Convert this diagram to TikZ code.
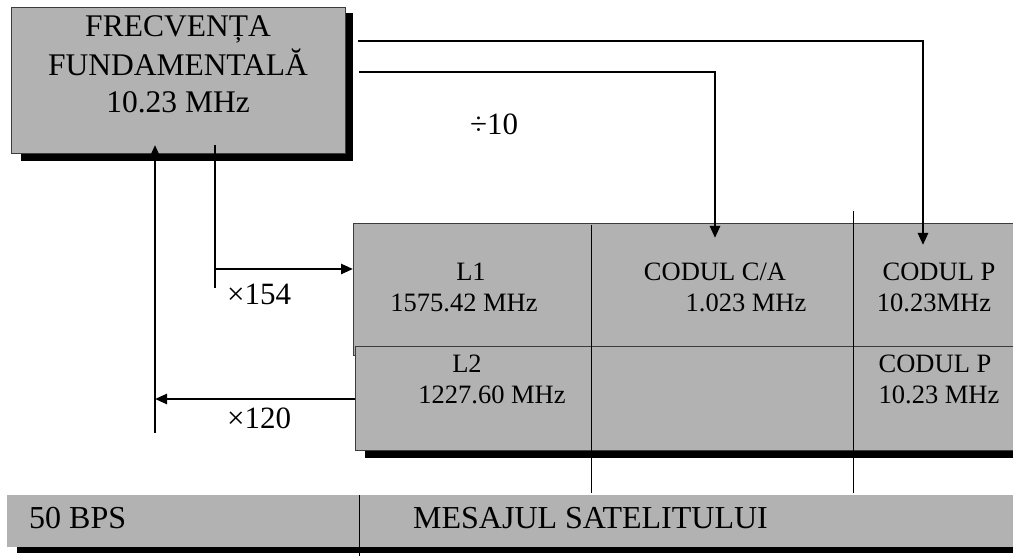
\documentclass[tikz,border=0pt]{standalone}
\usepackage{fontspec}
\setmainfont{Liberation Serif}
\usetikzlibrary{arrows.meta}
\definecolor{boxgray}{RGB}{178,178,178}
\definecolor{edgegray}{RGB}{60,60,60}
\tikzset{
  panel/.style={draw=edgegray, line width=0.8pt, fill=boxgray, inner sep=0pt, anchor=north west},
  flatpanel/.style={fill=boxgray, inner sep=0pt, anchor=north west},
  conn/.style={line width=2.5pt},
  arr/.style={conn, -{Triangle[length=12pt,width=10pt]}},
  divider/.style={line width=1pt, draw=black},
  bigtxt/.style={font=\fontsize{31.5}{36}\selectfont, inner sep=0pt, anchor=base},
  celltxt/.style={font=\fontsize{26.5}{30}\selectfont, inner sep=0pt, anchor=base},
  bartxt/.style={font=\fontsize{32}{36}\selectfont, inner sep=0pt, anchor=base west},
  lbl/.style={font=\fontsize{31}{36}\selectfont, inner sep=0pt, anchor=base west},
}
\begin{document}
\begin{tikzpicture}[x=1pt,y=-1pt]
\useasboundingbox (0,0) rectangle (1013,556);
\clip (0,0) rectangle (1013,556);

% top box with shadow
\fill[black] (21,13) rectangle (353,161);
\node[panel, minimum width=334pt, minimum height=146pt] (fund) at (11,7) {};
\node[bigtxt] (f1) at (178,37) {FRECVENȚA};
\node[bigtxt] (f2) at (178,76) {FUNDAMENTALĂ};
\node[bigtxt] (f3) at (178,113) {10.23 MHz};

% table with shadow
\fill[black] (365,450) rectangle (1020,458);
\node[panel, minimum width=670pt, minimum height=132pt] (row1) at (353,223) {};
\node[panel, minimum width=668pt, minimum height=104pt] (row2) at (355,346) {};

% bottom bar with shadow
\fill[black] (17,547) rectangle (1020,553);
\node[flatpanel, minimum width=1013pt, minimum height=52pt] (bar) at (7,495) {};

% dividers
\draw[divider] (591,225) -- (591,493);
\draw[divider] (853,211) -- (853,493);
\draw[divider] (359,495) -- (359,556);

% cell texts
\node[celltxt] (l1) at (471,281) {L1};
\node[celltxt] (l1f) at (464,312) {1575.42 MHz};
\node[celltxt] (l2) at (467,373) {L2};
\node[celltxt] (l2f) at (492,403) {1227.60 MHz};
\node[celltxt] (ca) at (715,281) {CODUL C/A};
\node[celltxt] (caf) at (746,312) {1.023 MHz};
\node[celltxt] (p1) at (939,281) {CODUL P};
\node[celltxt] (p1f) at (934,312) {10.23MHz};
\node[celltxt] (p2) at (935,373) {CODUL P};
\node[celltxt] (p2f) at (939,403) {10.23 MHz};

% bar texts
\node[bartxt] (bps) at (29,528) {50 BPS};
\node[bartxt] (msg) at (413,528) {MESAJUL SATELITULUI};

% labels
\node[lbl] (x154) at (227,305) {×154};
\node[lbl] (x120) at (227,428) {×120};
\node[lbl] (d10) at (470,135) {÷10};

% connector points
\coordinate (o1) at (358,41);
\coordinate (k1) at (923,41);
\coordinate (t1) at (923,245);
\coordinate (o2) at (359,72);
\coordinate (k2) at (715,72);
\coordinate (t2) at (715,238);
\coordinate (u1) at (155,433);
\coordinate (u2) at (155,145);
\coordinate (a2s) at (355,399);
\coordinate (a2e) at (155,399);
\coordinate (d1) at (215,145);
\coordinate (d2) at (215,288);
\coordinate (a1s) at (215,269);
\coordinate (a1e) at (353,269);

% connectors
\draw[arr] (o1) -- (k1) -- (t1);
\draw[arr] (o2) -- (k2) -- (t2);
\draw[arr] (u1) -- (u2);
\draw[arr] (a2s) -- (a2e);
\draw[conn] (d1) -- (d2);
\draw[arr] (a1s) -- (a1e);
\end{tikzpicture}
\end{document}
